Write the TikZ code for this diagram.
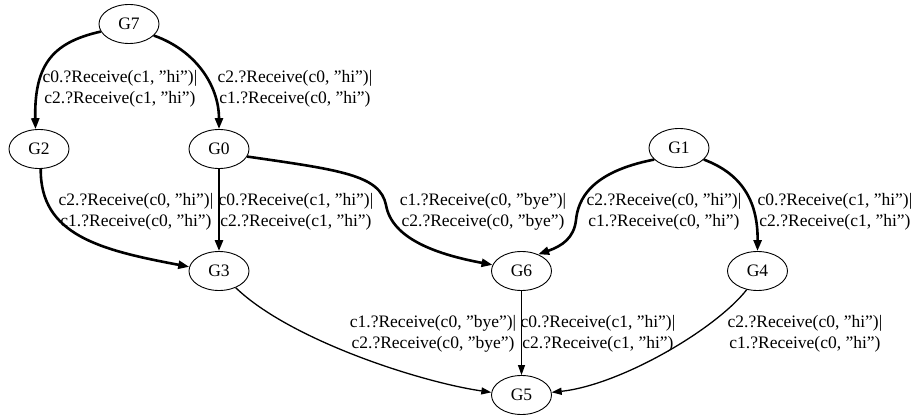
\documentclass[tikz,border=0pt]{standalone}
\usepackage{fontspec}
\setmainfont{Liberation Serif}
\usetikzlibrary{shapes.geometric,arrows.meta}
\begin{document}
\begin{tikzpicture}[x=1pt,y=-1pt,
  state/.style={draw,ellipse,line width=0.9pt,minimum width=60pt,minimum height=39pt,inner sep=0pt,font={\fontsize{17.5}{20}\selectfont}},
  lbl/.style={align=center,inner sep=0pt,font={\fontsize{17.5}{20.5}\selectfont}},
  thick edge/.style={line width=2.6pt,-{Triangle[length=11pt,width=8pt]}},
  thin edge/.style={line width=1.3pt,-{Triangle[length=10pt,width=7pt]}}]
\useasboundingbox (0,0) rectangle (914,420);
\node[state] (G7) at (129,24) {G7};
\node[state] (G2) at (39,149) {G2};
\node[state] (G0) at (219,149) {G0};
\node[state] (G1) at (679,148) {G1};
\node[state] (G3) at (219,271) {G3};
\node[state] (G6) at (521.5,271) {G6};
\node[state] (G4) at (757.5,271) {G4};
\node[state] (G5) at (521.5,395) {G5};

\draw[thick edge] (G7.195) .. controls (55,42) and (34,62) .. (G2.100);
\draw[thick edge] (G7.335) .. controls (195,50) and (219,85) .. (G0.north);
\draw[thick edge] (G2.275) .. controls (40,235) and (100,250) .. (G3.172);
\draw[thick edge] (G0) -- (G3);
\draw[thick edge] (G0.345) .. controls (340,170) and (380,175) .. (386,205) .. controls (392,240) and (440,255) .. (G6.168);
\draw[thick edge] (G1.205) .. controls (590,172) and (578,200) .. (576,220) .. controls (574,238) and (562,246) .. (G6.45);
\draw[thick edge] (G1.335) .. controls (745,175) and (758,205) .. (G4.north);
\draw[thin edge] (G3.315) .. controls (290,340) and (420,382) .. (G5.175);
\draw[thin edge] (G6) -- (G5);
\draw[thin edge] (G4.240) .. controls (715,330) and (620,385) .. (G5.5);

\node[lbl] (L72) at (120,89) {c0.?Receive(c1, ”hi”)|\\c2.?Receive(c1, ”hi”)};
\node[lbl] (L70) at (295,89) {c2.?Receive(c0, ”hi”)|\\c1.?Receive(c0, ”hi”)};
\node[lbl] (L23) at (136,212) {c2.?Receive(c0, ”hi”)|\\c1.?Receive(c0, ”hi”)};
\node[lbl] (L03) at (296,212) {c0.?Receive(c1, ”hi”)|\\c2.?Receive(c1, ”hi”)};
\node[lbl] (L06) at (483,212) {c1.?Receive(c0, ”bye”)|\\c2.?Receive(c0, ”bye”)};
\node[lbl] (L16) at (664,212) {c2.?Receive(c0, ”hi”)|\\c1.?Receive(c0, ”hi”)};
\node[lbl] (L14) at (835,212) {c0.?Receive(c1, ”hi”)|\\c2.?Receive(c1, ”hi”)};
\node[lbl] (L35) at (433,334) {c1.?Receive(c0, ”bye”)|\\c2.?Receive(c0, ”bye”)};
\node[lbl] (L65) at (598,334) {c0.?Receive(c1, ”hi”)|\\c2.?Receive(c1, ”hi”)};
\node[lbl] (L45) at (805,334) {c2.?Receive(c0, ”hi”)|\\c1.?Receive(c0, ”hi”)};
\end{tikzpicture}
\end{document}
